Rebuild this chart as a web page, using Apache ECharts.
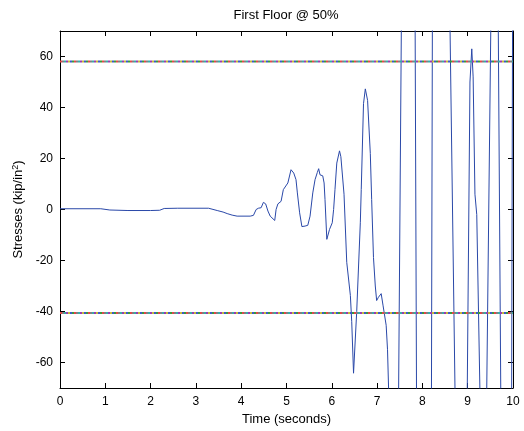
<!DOCTYPE html>
<html>
<head>
<meta charset="utf-8">
<script src="https://cdn.jsdelivr.net/npm/echarts@6/dist/echarts.min.js"></script>
<style>
html,body{margin:0;padding:0;background:#fff;}
#chart{width:524px;height:431px;}
</style>
</head>
<body>
<div id="chart"></div>
<script>
// ---- Data ----
const titleText = 'First Floor @ 50%';
const xName = 'Time (seconds)';
const xTicks = [0, 1, 2, 3, 4, 5, 6, 7, 8, 9, 10];
const yTicks = [-60, -40, -20, 0, 20, 40, 60];
const timeValues = [
  0, 0.9, 1.1, 1.5, 2.0, 2.2, 2.3, 2.6, 3.28, 3.47, 3.6, 3.69, 3.8, 3.91, 4.2, 4.27, 4.31, 4.33, 4.38, 4.44,
  4.49, 4.54, 4.59, 4.64, 4.68, 4.74, 4.77, 4.81, 4.88, 4.93, 4.97, 5.03, 5.10, 5.16, 5.21, 5.24, 5.29, 5.34,
  5.41, 5.47, 5.52, 5.58, 5.63, 5.68, 5.71, 5.74, 5.80, 5.83, 5.85, 5.89, 5.91, 5.95, 6.01, 6.04, 6.07, 6.11,
  6.17, 6.20, 6.27, 6.33, 6.41, 6.44, 6.48, 6.55, 6.63, 6.65, 6.70, 6.74, 6.79, 6.85, 6.88, 6.92, 6.96, 6.99,
  7.03, 7.09, 7.13, 7.20, 7.23, 7.255,
  7.36, 7.475, 7.535, 7.70, 7.84, 7.87, 8.04, 8.20, 8.22, 8.42, 8.61, 8.72, 8.86,
  8.99, 9.05, 9.09, 9.12, 9.16, 9.20, 9.27, 9.34, 9.42, 9.51, 9.59, 9.675, 9.73, 9.85, 9.97, 9.99, 10
];
const stressValues = [
  0.3, 0.3, -0.2, -0.4, -0.4, -0.3, 0.4, 0.5, 0.5, -0.4, -1.0, -1.6, -2.2, -2.6, -2.6, -2.3, -1.6, 0, 0.5, 0.7,
  2.8, 2.2, -0.6, -2.6, -3.3, -4.3, 0, 2.2, 3.2, 7.8, 7.1, 10.4, 15.6, 14.3, 11.7, 6.5, -1.3, -6.7,
  -6.5, -6.2, -2.6, 6.5, 11.7, 14.5, 16.0, 13.6, 13.2, 10.4, 3.9, -11.7, -12.3, -7.8, -5.2, 0, 7.8, 18.2,
  23.0, 20.7, 6.0, -20.7, -33.7, -44.0, -64.2, -40.0, -5.0, 7.8, 41.5, 47.3, 42.8, 22.0, 3.9, -18.8, -30.0, -35.7,
  -34.4, -33.0, -37.5, -45.4, -55.0, -71,
  -140, -71, 71, 140, 71, -71, -140, -71, 71, 140, 71, -71, -140,
  -71, 50, 63, 52, 6, -2, -71, -140, -71, 71, 140, 71, -71, -140, -71, 71, 80
];
const upperLimit = 58;
const lowerLimit = -40.6;
const limitColors = ['#e04848', '#3a9a3a', '#3a5ac8', '#c8b838', '#9a3ab0', '#38a8a8', '#808080'];

// ---- Chart ----
const chart = echarts.init(document.getElementById('chart'), null, {renderer: 'canvas'});
const FONT = '"Liberation Sans", Arial, Helvetica, sans-serif';
const curve = timeValues.map((t, i) => [t, stressValues[i]]);

const limitSeries = [];
[upperLimit, lowerLimit].forEach(v => {
  limitColors.forEach((c, k) => {
    limitSeries.push({
      type: 'line', xAxisIndex: 0, yAxisIndex: 0, symbol: 'none', silent: true,
      data: [[xTicks[0], v], [xTicks[xTicks.length - 1], v]],
      lineStyle: {color: c, width: 2, type: [2, 12], dashOffset: k * 2},
      z: 3
    });
  });
});

const baseX = {
  type: 'value', min: 0, max: 10, interval: 1,
  axisLine: {show: true, onZero: false, lineStyle: {color: '#000', width: 1}},
  axisTick: {show: true, inside: true, length: 5, lineStyle: {color: '#000'}},
  splitLine: {show: false}
};
const baseY = {
  type: 'value', min: -70, max: 70,
  axisLine: {show: true, onZero: false, lineStyle: {color: '#000', width: 1}},
  axisTick: {show: true, inside: true, length: 5, customValues: yTicks, lineStyle: {color: '#000'}},
  splitLine: {show: false}
};

chart.setOption({
  animation: false,
  backgroundColor: '#fff',
  grid: {left: 60, right: 11, top: 31, bottom: 40, containLabel: false},
  graphic: [{
    type: 'text', x: 286, y: 15,
    style: {text: titleText, fontFamily: FONT, fontSize: 13, fill: '#000', textAlign: 'center', textVerticalAlign: 'middle'}
  }],
  xAxis: [
    Object.assign({}, baseX, {
      position: 'bottom',
      name: xName, nameLocation: 'middle', nameGap: 25,
      nameTextStyle: {fontFamily: FONT, fontSize: 13, color: '#000'},
      axisLabel: {show: true, fontFamily: FONT, fontSize: 12, color: '#000', margin: 8}
    }),
    Object.assign({}, baseX, {position: 'top', axisLabel: {show: false}})
  ],
  yAxis: [
    Object.assign({}, baseY, {
      position: 'left',
      name: 'Stresses (kip/in{sup|2})', nameLocation: 'middle', nameRotate: 90, nameGap: 34,
      nameTextStyle: {
        fontFamily: FONT, fontSize: 13, color: '#000',
        rich: {sup: {fontFamily: FONT, fontSize: 9, color: '#000', verticalAlign: 'top', padding: [0, 0, 6, 0]}}
      },
      axisLabel: {show: true, fontFamily: FONT, fontSize: 12, color: '#000', margin: 7, customValues: yTicks}
    }),
    Object.assign({}, baseY, {position: 'right', axisLabel: {show: false}})
  ],
  series: [{
    type: 'line', xAxisIndex: 0, yAxisIndex: 0, data: curve, symbol: 'none', clip: true,
    lineStyle: {color: '#2a48a8', width: 1}, z: 2
  }].concat(limitSeries)
});
</script>
</body>
</html>
